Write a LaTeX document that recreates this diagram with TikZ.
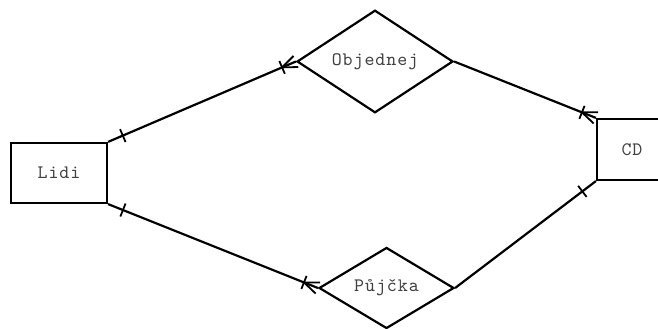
\documentclass[tikz,border=0pt]{standalone}
\usepackage{fontspec}
\newfontfamily\labelfont[LetterSpace=5]{lmmono10-regular.otf}
\usetikzlibrary{shapes.geometric,decorations.markings}

\tikzset{
  every node/.style={font=\labelfont\fontsize{19}{22}\selectfont, text=black!75},
  entity/.style={draw, line width=2.2pt, rectangle, inner sep=0pt},
  relation/.style={draw, line width=2.2pt, diamond, inner sep=0pt},
  link/.style={line width=2.2pt},
  % single bar close to the start of a connector
  barstart/.style={postaction={decorate, decoration={markings,
      mark=at position 16pt with {\draw[line width=1.8pt] (0,-7pt) -- (0,7pt);}}}},
  % single bar close to the end of a connector
  barend/.style={postaction={decorate, decoration={markings,
      mark=at position -17pt with {\draw[line width=1.8pt] (0,-7pt) -- (0,7pt);}}}},
  % bar plus crow's foot at the end of a connector
  crowend/.style={postaction={decorate, decoration={markings,
      mark=at position -15pt with {
        \draw[line width=1.8pt] (0,-7pt) -- (0,7pt);
        \draw[line width=1.8pt] (0,0) -- (15pt,6pt);
        \draw[line width=1.8pt] (0,0) -- (15pt,-6pt);}}}}
}

\begin{document}
\begin{tikzpicture}[x=1pt,y=1pt]
  \useasboundingbox[fill=white] (0,0) rectangle (658,329);
  \clip (0,0) rectangle (658,329);

  \node[entity, minimum width=96pt, minimum height=60pt] (lidi) at (59,156) {Lidi};
  \node[entity, minimum width=70pt, minimum height=61pt] (cd) at (632,179.5) {CD};

  \node[relation, minimum width=156pt, minimum height=97pt] (objednej) at (375,267.5) {Objednej};
  \node[relation, minimum width=135pt, minimum height=80pt] (pujcka) at (386.5,41) {Půjčka};

  \draw[link, barstart, crowend] (lidi.north east) -- (objednej.west);
  \draw[link, crowend] (objednej.east) -- (cd.north west);
  \draw[link, barstart, crowend] (lidi.south east) -- (pujcka.west);
  \draw[link, barend] (pujcka.east) -- (cd.south west);
\end{tikzpicture}
\end{document}
